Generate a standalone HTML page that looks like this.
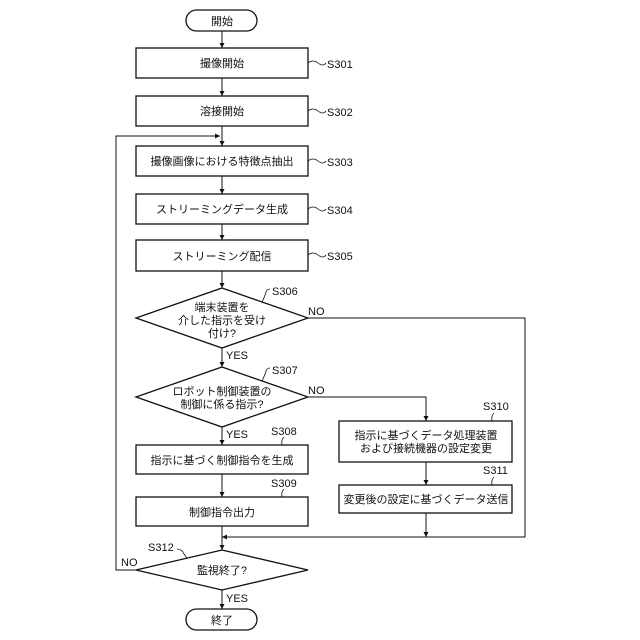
<!DOCTYPE html><html><head><meta charset="utf-8"><style>body{margin:0;background:#fff}svg{display:block}text{font-family:"Liberation Sans","Noto Sans CJK JP",sans-serif;font-size:11px;fill:#111}</style></head><body>
<svg width="640" height="640" viewBox="0 0 640 640" xmlns="http://www.w3.org/2000/svg">
<defs><marker id="a" markerWidth="6" markerHeight="6" refX="5" refY="3" orient="auto"><path d="M0,0.5 L5,3 L0,5.5z" fill="#111"/></marker></defs>
<g fill="none" stroke="#111" stroke-width="1.3">
<rect x="186" y="10" width="71" height="21" rx="10.5"/>
<rect x="136" y="48" width="172" height="30"/>
<rect x="136" y="96" width="172" height="30"/>
<rect x="136" y="146" width="172" height="30"/>
<rect x="136" y="194" width="172" height="30"/>
<rect x="136" y="240" width="172" height="31"/>
<path d="M222,288 L308,318 L222,348 L136,318z"/>
<path d="M222,367 L308,397 L222,427 L136,397z"/>
<rect x="136" y="445" width="172" height="29"/>
<rect x="136" y="497" width="172" height="29"/>
<rect x="339" y="421" width="173" height="41"/>
<rect x="339" y="485" width="173" height="28"/>
<path d="M222,550 L308,570 L222,590 L136,570z"/>
<rect x="186" y="609" width="71" height="21" rx="10.5"/>
</g>
<g stroke="#111" stroke-width="1" fill="none" marker-end="url(#a)">
<line x1="222" y1="31" x2="222" y2="48"/>
<line x1="222" y1="78" x2="222" y2="96"/>
<line x1="222" y1="126" x2="222" y2="146"/>
<line x1="222" y1="176" x2="222" y2="194"/>
<line x1="222" y1="224" x2="222" y2="240"/>
<line x1="222" y1="271" x2="222" y2="288"/>
<line x1="222" y1="348" x2="222" y2="367"/>
<line x1="222" y1="427" x2="222" y2="445"/>
<line x1="222" y1="474" x2="222" y2="497"/>
<line x1="222" y1="526" x2="222" y2="550"/>
<line x1="222" y1="590" x2="222" y2="609"/>
<polyline points="308,397 426,397 426,421"/>
<line x1="426" y1="462" x2="426" y2="485"/>
<line x1="426" y1="513" x2="426" y2="537"/>
<polyline points="308,318 525,318 525,537 222,537"/>
<polyline points="136,570 116,570 116,136 220,136"/>
</g>
<g stroke="#111" stroke-width="0.8" fill="none">
<path d="M308,63 q5,-4 10,0 t8,0"/><path d="M308,111 q5,-4 10,0 t8,0"/><path d="M308,161 q5,-4 10,0 t8,0"/><path d="M308,209 q5,-4 10,0 t8,0"/><path d="M308,255 q5,-4 10,0 t8,0"/>
<path d="M262,302 q3,-6 4,-10 q1,-3 4,-3"/><path d="M262,381 q3,-6 4,-10 q1,-3 4,-3"/>
<path d="M282,445 q-1,-5 2,-8"/><path d="M282,497 q-1,-5 2,-8"/>
<path d="M492,421 q-1,-5 2,-8"/><path d="M492,485 q-1,-5 2,-8"/>
<path d="M177,549 q5,0 7,5 l3,4"/>
</g>
<g text-anchor="middle">
<text x="222" y="25">開始</text>
<text x="222" y="67">撮像開始</text>
<text x="222" y="115">溶接開始</text>
<text x="222" y="165">撮像画像における特徴点抽出</text>
<text x="222" y="213">ストリーミングデータ生成</text>
<text x="222" y="260">ストリーミング配信</text>
<text x="222" y="311" font-size="10.5">端末装置を</text>
<text x="222" y="324" font-size="10.5">介した指示を受け</text>
<text x="222" y="337" font-size="10.5">付け?</text>
<text x="222" y="395" font-size="10.5">ロボット制御装置の</text>
<text x="222" y="408" font-size="10.5">制御に係る指示?</text>
<text x="222" y="464">指示に基づく制御指令を生成</text>
<text x="222" y="516">制御指令出力</text>
<text x="426" y="439">指示に基づくデータ処理装置</text>
<text x="426" y="452">および接続機器の設定変更</text>
<text x="426" y="503">変更後の設定に基づくデータ送信</text>
<text x="222" y="574">監視終了?</text>
<text x="222" y="624">終了</text>
</g>
<g font-size="11">
<text x="327" y="68">S301</text><text x="327" y="116">S302</text><text x="327" y="166">S303</text><text x="327" y="214">S304</text><text x="327" y="260">S305</text>
<text x="272" y="295">S306</text><text x="272" y="374">S307</text>
<text x="271" y="435">S308</text><text x="271" y="487">S309</text>
<text x="483" y="410">S310</text><text x="483" y="474">S311</text>
<text x="148" y="551">S312</text>
<text x="308" y="315" font-size="10">NO</text><text x="308" y="394" font-size="10">NO</text><text x="121" y="566" font-size="10">NO</text>
<text x="226" y="359" font-size="10">YES</text><text x="226" y="438" font-size="10">YES</text><text x="226" y="602" font-size="10">YES</text>
</g>
</svg></body></html>
